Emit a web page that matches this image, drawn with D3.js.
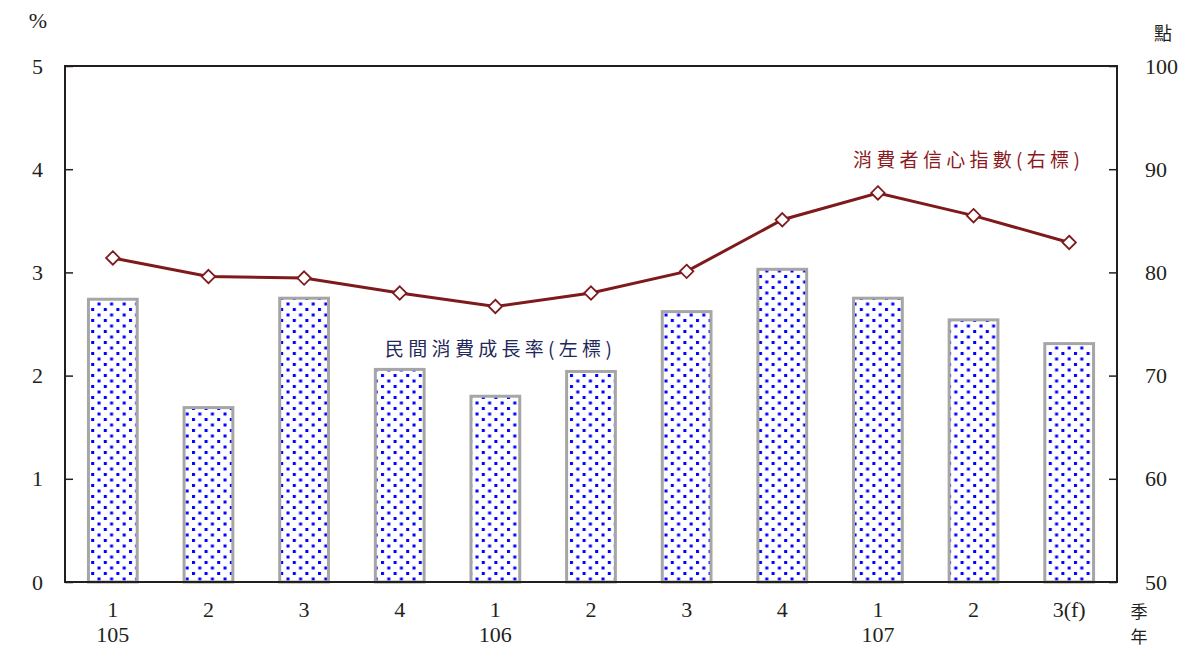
<!DOCTYPE html>
<html><head><meta charset="utf-8">
<script src="https://cdn.jsdelivr.net/npm/d3@7"></script>
<style>body{margin:0;background:#fff}svg{display:block}</style>
</head><body><svg id="c" width="1200" height="660"></svg>
<script>
const quarters = ["1","2","3","4","1","2","3","4","1","2","3(f)"];
const years = ["105","","","","106","","","","107","",""];
const consumptionGrowth = [2.74,1.69,2.75,2.06,1.80,2.04,2.62,3.03,2.75,2.54,2.31];
const confidenceIndex = [81.4,79.6,79.45,78.0,76.7,78.0,80.1,85.1,87.7,85.5,82.9];
const leftTicks = [0,1,2,3,4,5];
const rightTicks = [50,60,70,80,90,100];

const svg = d3.select("#c");
const L=65,R=1117,T=66,B=582;
const serif = "'Liberation Serif','Times New Roman',serif";
const cjk = "'Noto Sans CJK TC','Noto Sans CJK SC',sans-serif";
const x = d3.scaleBand().domain(d3.range(quarters.length)).range([L,R]).paddingInner(0.49).paddingOuter(0.245);
const yL = d3.scaleLinear().domain([0,5]).range([B,T]);
const yR = d3.scaleLinear().domain([50,100]).range([B,T]);

const defs = svg.append("defs");
const pat = defs.append("pattern").attr("id","dots").attr("patternUnits","userSpaceOnUse")
  .attr("width",12.6).attr("height",11).attr("x",L).attr("y",B);
pat.append("rect").attr("width",12.6).attr("height",11).attr("fill","#fff");
pat.append("rect").attr("x",1).attr("y",1).attr("width",3).attr("height",3).attr("fill","#0000ff");
pat.append("rect").attr("x",7.3).attr("y",6.5).attr("width",3).attr("height",3).attr("fill","#0000ff");

// bars
svg.append("g").selectAll("rect").data(consumptionGrowth).join("rect")
  .attr("x",(d,i)=>x(i)).attr("width",x.bandwidth())
  .attr("y",d=>yL(d)).attr("height",d=>B-yL(d))
  .attr("fill","url(#dots)").attr("stroke","#a6a6a6").attr("stroke-width",3);

// frame
svg.append("rect").attr("x",L).attr("y",T).attr("width",R-L).attr("height",B-T)
  .attr("fill","none").attr("stroke","#231f20").attr("stroke-width",2);

// left axis
const gl = svg.append("g").attr("transform",`translate(${L},0)`)
  .call(d3.axisLeft(yL).tickValues(leftTicks).tickSize(-8).tickPadding(22).tickFormat(d3.format("d")));
gl.select(".domain").remove();
gl.selectAll("line").attr("stroke","#231f20").attr("stroke-width",1.5);
gl.selectAll("text").attr("font-family",serif).attr("font-size",22).attr("fill","#231f20");

// right axis
const gr = svg.append("g").attr("transform",`translate(${R},0)`)
  .call(d3.axisRight(yR).tickValues(rightTicks).tickSize(-8).tickPadding(28).tickFormat(d3.format("d")));
gr.select(".domain").remove();
gr.selectAll("line").attr("stroke","#231f20").attr("stroke-width",1.5);
gr.selectAll("text").attr("font-family",serif).attr("font-size",22).attr("fill","#231f20");

// bottom labels
const cx = i => x(i)+x.bandwidth()/2;
svg.append("g").selectAll("text").data(quarters).join("text")
  .attr("x",(d,i)=>cx(i)).attr("y",617).attr("text-anchor","middle")
  .attr("font-family",serif).attr("font-size",22).attr("fill","#231f20").text(d=>d);
svg.append("g").selectAll("text").data(years).join("text")
  .attr("x",(d,i)=>cx(i)).attr("y",642).attr("text-anchor","middle")
  .attr("font-family",serif).attr("font-size",22).attr("fill","#231f20").text(d=>d);

// unit labels
svg.append("text").attr("x",38).attr("y",28).attr("text-anchor","middle").attr("font-family",serif)
  .attr("font-size",22).attr("fill","#231f20").text("%");
svg.append("text").attr("x",1163).attr("y",40).attr("text-anchor","middle").attr("font-family",cjk)
  .attr("font-size",18).attr("fill","#231f20").text("點");
svg.append("text").attr("x",1139).attr("y",618).attr("text-anchor","middle").attr("font-family",cjk)
  .attr("font-size",17).attr("fill","#231f20").text("季");
svg.append("text").attr("x",1139).attr("y",643).attr("text-anchor","middle").attr("font-family",cjk)
  .attr("font-size",17).attr("fill","#231f20").text("年");

// line
const line = d3.line().x((d,i)=>cx(i)).y(d=>yR(d));
svg.append("path").datum(confidenceIndex).attr("d",line).attr("fill","none")
  .attr("stroke","#7f1a1c").attr("stroke-width",3);
svg.append("g").selectAll("path").data(confidenceIndex).join("path")
  .attr("d",d3.symbol(d3.symbolDiamond2,115)())
  .attr("transform",(d,i)=>`translate(${cx(i)},${yR(d)})`)
  .attr("fill","#fff").attr("stroke","#7f1a1c").attr("stroke-width",1.8);

// legends
svg.append("text").attr("x",385).attr("y",356).attr("font-family",cjk).attr("font-size",19)
  .attr("letter-spacing",4.3).attr("fill","#1f2a5a").text("民間消費成長率(左標)");
svg.append("text").attr("x",853).attr("y",167).attr("font-family",cjk).attr("font-size",19)
  .attr("letter-spacing",4.3).attr("fill","#8b1a1e").text("消費者信心指數(右標)");
</script></body></html>
